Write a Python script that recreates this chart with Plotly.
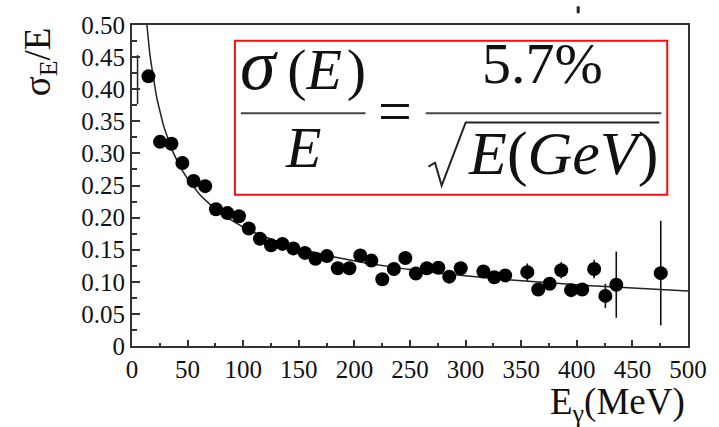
import numpy as np
import plotly.graph_objects as go

# Photon energy (MeV) and relative energy resolution sigma_E/E
energy_mev = [14.8, 25.2, 35.5, 45.3, 55.4, 65.8, 75.5, 85.8, 96.2, 105.0,
              115.0, 125.0, 135.3, 145.1, 155.5, 165.0, 175.3, 185.1, 195.5, 205.3,
              215.3, 225.1, 235.5, 245.8, 255.3, 265.1, 275.5, 285.3, 295.6, 316.0,
              325.8, 335.6, 355.5, 365.3, 375.6, 386.0, 394.9, 404.9, 415.6, 425.7,
              435.5, 475.5]
resolution = [0.420, 0.318, 0.315, 0.285, 0.257, 0.249, 0.213, 0.207, 0.202, 0.183,
              0.167, 0.157, 0.159, 0.152, 0.145, 0.136, 0.140, 0.121, 0.121, 0.141,
              0.133, 0.104, 0.120, 0.137, 0.113, 0.121, 0.122, 0.108, 0.121, 0.116,
              0.107, 0.110, 0.115, 0.088, 0.097, 0.118, 0.087, 0.088, 0.120, 0.078,
              0.0955, 0.1135]
resolution_err = [0.006, 0.006, 0.006, 0.006, 0.006, 0.006, 0.006, 0.006, 0.006, 0.006,
                  0.006, 0.006, 0.006, 0.006, 0.006, 0.006, 0.006, 0.006, 0.006, 0.006,
                  0.007, 0.007, 0.007, 0.007, 0.007, 0.007, 0.007, 0.007, 0.008, 0.008,
                  0.008, 0.008, 0.0135, 0.009, 0.009, 0.0127, 0.010, 0.010, 0.0145, 0.019,
                  0.0515, 0.0815]

# Stray error bar near the left axis
stray_x = [5.0]
stray_y = [0.415]
stray_err = [0.038]

# Fit: sigma/E = a / sqrt(E[GeV]) + b
fit_a = 0.057
fit_b = 0.005

x_ticks = [0, 50, 100, 150, 200, 250, 300, 350, 400, 450, 500]
y_ticks = [0, 0.05, 0.10, 0.15, 0.20, 0.25, 0.30, 0.35, 0.40, 0.45, 0.50]
y_ticktext = ["0", "0.05", "0.10", "0.15", "0.20", "0.25", "0.30", "0.35", "0.40", "0.45", "0.50"]

W, H = 719, 427
L, R, T, B = 132, 25, 19, 81
PW, PH = W - L - R, H - T - B

def px(x):
    return (x - L) / PW

def py(y):
    return (H - B - y) / PH

SERIF = "Liberation Serif"
INK = "#111111"

fig = go.Figure()

e_fit = np.linspace(12.0, 500.0, 400)
fig.add_trace(go.Scatter(
    x=e_fit, y=fit_a / np.sqrt(e_fit / 1000.0) + fit_b,
    mode="lines", line=dict(color="#222222", width=1.5),
    hoverinfo="skip", showlegend=False))

fig.add_trace(go.Scatter(
    x=stray_x, y=stray_y, mode="markers",
    marker=dict(size=1, color="rgba(0,0,0,0)"),
    error_y=dict(type="data", array=stray_err, color="#222222", thickness=1.5, width=0),
    showlegend=False))

fig.add_trace(go.Scatter(
    x=energy_mev, y=resolution, mode="markers",
    marker=dict(size=14, color="black", line=dict(width=0)),
    error_y=dict(type="data", array=resolution_err, color="#111111", thickness=1.6, width=0),
    showlegend=False))

axis_common = dict(
    showgrid=False, zeroline=False, showline=True, linecolor="#333333", linewidth=2,
    mirror=True, ticks="inside", tickcolor="#333333", tickwidth=1.5,
    tickfont=dict(family=SERIF, size=25, color=INK),
)

fig.update_xaxes(range=[0, 500], tickvals=x_ticks, ticklen=6,
                 minor=dict(dtick=25, ticks="inside", ticklen=3, tickcolor="#333333", tickwidth=1.5),
                 **axis_common)
fig.update_yaxes(range=[0, 0.5], tickvals=y_ticks, ticktext=y_ticktext, ticklen=8,
                 minor=dict(dtick=0.025, ticks="inside", ticklen=5, tickcolor="#333333", tickwidth=1.5),
                 **axis_common)

annotations = [
    # axis titles
    dict(x=px(39), y=py(56), text="σ<sub>E</sub>/E", textangle=-90,
         font=dict(family=SERIF, size=37, color=INK)),
    dict(x=px(623), y=py(406), text="E<sub>γ</sub>(MeV)",
         font=dict(family=SERIF, size=37, color=INK)),
    # resolution formula
    dict(x=px(305), y=py(60),
         text='<span style="font-size:72px"><i>σ</i></span>\u2009(<i>E</i>\u200a)',
         font=dict(family=SERIF, size=58, color=INK)),
    dict(x=px(305), y=py(144), text="<i>E</i>",
         font=dict(family=SERIF, size=58, color=INK)),
    dict(x=px(398), y=py(107), text="=",
         font=dict(family=SERIF, size=60, color=INK)),
    dict(x=px(547), y=py(58), text="5.7%",
         font=dict(family=SERIF, size=58, color=INK)),
    dict(x=px(568), y=py(150), text="<i>E</i>(<i>G</i><i>e</i><i>V</i>)",
         font=dict(family=SERIF, size=62, color=INK)),
]
for a in annotations:
    a.update(xref="paper", yref="paper", xanchor="center", yanchor="middle", showarrow=False)

shapes = [
    dict(type="rect", x0=px(236), x1=px(673), y0=py(35), y1=py(192),
         line=dict(color="#ee1111", width=2), fillcolor="white", layer="above"),
    dict(type="line", x0=px(242), x1=px(368), y0=py(109), y1=py(109),
         line=dict(color="#444444", width=2)),
    dict(type="line", x0=px(429), x1=px(667), y0=py(109), y1=py(109),
         line=dict(color="#444444", width=2)),
    dict(type="path",
         path="M {} {} L {} {} L {} {} L {} {} L {} {}".format(
             px(431.7), py(163.3), px(438.3), py(159.3), px(445), py(182.7),
             px(469.3), py(118.3), px(665), py(118.3)),
         line=dict(color="#222222", width=2)),
    dict(type="line", x0=px(583), x1=px(583), y0=py(0), y1=py(7),
         line=dict(color="#222222", width=3)),
]
for s in shapes:
    s.update(xref="paper", yref="paper")
    s.setdefault("layer", "above")

fig.update_layout(
    width=W, height=H, margin=dict(l=L, r=R, t=T, b=B),
    paper_bgcolor="white", plot_bgcolor="white",
    annotations=annotations, shapes=shapes, showlegend=False,
)

fig.write_html("out.html")
